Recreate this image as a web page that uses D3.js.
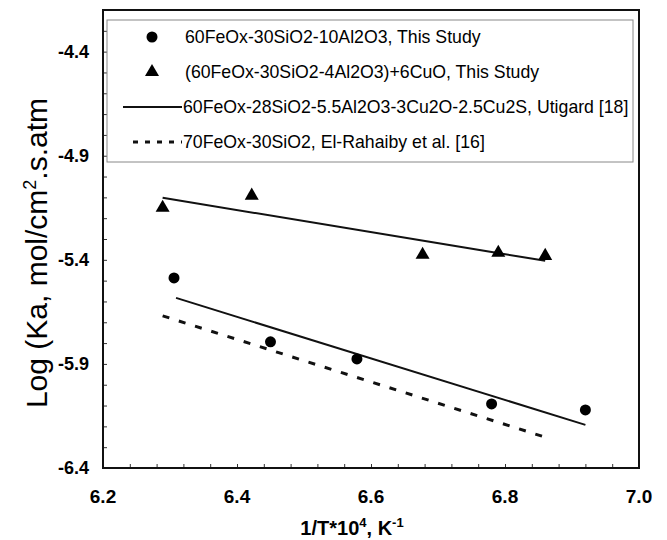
<!DOCTYPE html>
<html>
<head>
<meta charset="utf-8">
<script src="https://cdn.jsdelivr.net/npm/d3@7"></script>
<style>
  body { margin: 0; background: #fff; }
  svg { font-family: "Liberation Sans", Arial, sans-serif; }
</style>
</head>
<body>
<div id="chart"></div>
<script>
var circleX = [6.306, 6.450, 6.579, 6.780, 6.920];
var circleY = [-5.487, -5.794, -5.876, -6.092, -6.121];
var triX = [6.289, 6.422, 6.677, 6.790, 6.860];
var triY = [-5.150, -5.092, -5.376, -5.366, -5.381];

// fitted / literature lines (end points)
var triFitX = [6.289, 6.860];
var triFitY = [-5.102, -5.405];
var utigardX = [6.309, 6.920];
var utigardY = [-5.583, -6.193];
var rahaibyX = [6.289, 6.859];
var rahaibyY = [-5.669, -6.251];

var xTickLabels = [6.2, 6.4, 6.6, 6.8, 7.0];
var yTickLabels = [-6.4, -5.9, -5.4, -4.9, -4.4];

var legendLabels = [
  '60FeOx-30SiO2-10Al2O3, This Study',
  '(60FeOx-30SiO2-4Al2O3)+6CuO, This Study',
  '60FeOx-28SiO2-5.5Al2O3-3Cu2O-2.5Cu2S, Utigard [18]',
  '70FeOx-30SiO2, El-Rahaiby et al. [16]'
];

var W = 667, H = 540;
var margin = { top: 10, right: 28, bottom: 72, left: 103 };
var width = W - margin.left - margin.right,
    height = H - margin.top - margin.bottom;

var x = d3.scaleLinear().domain([6.2, 7.0]).range([0, width]);
var y = d3.scaleLinear().domain([-6.4, -4.2]).range([height, 0]);

var svg = d3.select('#chart').append('svg')
    .attr('width', W)
    .attr('height', H);

var g = svg.append('g')
    .attr('transform', 'translate(' + margin.left + ',' + margin.top + ')');

// minor ticks pointing inward
var xMinor = d3.range(0, 21).map(function(i) { return 6.2 + i * 0.04; });
var yMinor = d3.range(0, 23).map(function(i) { return -6.4 + i * 0.1; });

var xAxis = d3.axisTop(x).tickValues(xMinor).tickSize(4).tickFormat('');
var yAxis = d3.axisRight(y).tickValues(yMinor).tickSize(4).tickFormat('');

g.append('g')
    .attr('transform', 'translate(0,' + height + ')')
    .call(xAxis)
    .call(function(s) { s.select('.domain').remove(); })
    .selectAll('line').attr('stroke', '#333');

g.append('g')
    .call(yAxis)
    .call(function(s) { s.select('.domain').remove(); })
    .selectAll('line').attr('stroke', '#333');

// frame
g.append('rect')
    .attr('x', 0).attr('y', 0)
    .attr('width', width).attr('height', height)
    .attr('fill', 'none')
    .attr('stroke', '#111')
    .attr('stroke-width', 2);

// tick labels
g.selectAll('text.xlab')
    .data(xTickLabels)
    .enter().append('text')
    .attr('class', 'xlab')
    .attr('x', function(d) { return x(d); })
    .attr('y', height + 35)
    .attr('text-anchor', 'middle')
    .attr('font-size', 19)
    .attr('font-weight', 'bold')
    .text(function(d) { return d.toFixed(1); });

g.selectAll('text.ylab')
    .data(yTickLabels)
    .enter().append('text')
    .attr('class', 'ylab')
    .attr('x', -14)
    .attr('y', function(d) { return y(d) + 6; })
    .attr('text-anchor', 'end')
    .attr('font-size', 18)
    .attr('font-weight', 'bold')
    .text(function(d) { return d.toFixed(1); });

// axis titles
var xt = svg.append('text')
    .attr('x', 352)
    .attr('y', 535)
    .attr('text-anchor', 'middle')
    .attr('font-size', 20)
    .attr('font-weight', 'bold');
xt.append('tspan').text('1/T*10');
xt.append('tspan').attr('dy', -8).attr('font-size', 13).text('4');
xt.append('tspan').attr('dy', 8).text(', K');
xt.append('tspan').attr('dy', -8).attr('font-size', 13).text('-1');

var yt = svg.append('text')
    .attr('transform', 'translate(47,253) rotate(-90)')
    .attr('text-anchor', 'middle')
    .attr('font-size', 30);
yt.append('tspan').text('Log (Ka, mol/cm');
yt.append('tspan').attr('dy', -11).attr('font-size', 18).text('2');
yt.append('tspan').attr('dy', 11).text('.s.atm');

// lines
var line = d3.line()
    .x(function(d) { return x(d[0]); })
    .y(function(d) { return y(d[1]); });

function pairs(xs, ys) { return xs.map(function(v, i) { return [v, ys[i]]; }); }

g.append('path')
    .attr('d', line(pairs(triFitX, triFitY)))
    .attr('fill', 'none').attr('stroke', '#111').attr('stroke-width', 2);

g.append('path')
    .attr('d', line(pairs(utigardX, utigardY)))
    .attr('fill', 'none').attr('stroke', '#111').attr('stroke-width', 2);

g.append('path')
    .attr('d', line(pairs(rahaibyX, rahaibyY)))
    .attr('fill', 'none').attr('stroke', '#111').attr('stroke-width', 3)
    .attr('stroke-dasharray', '7,10');

// markers
g.selectAll('circle.pt')
    .data(pairs(circleX, circleY))
    .enter().append('circle')
    .attr('class', 'pt')
    .attr('cx', function(d) { return x(d[0]); })
    .attr('cy', function(d) { return y(d[1]); })
    .attr('r', 5.5)
    .attr('fill', '#000');

var tri = d3.symbol().type(d3.symbolTriangle).size(85);
g.selectAll('path.tri')
    .data(pairs(triX, triY))
    .enter().append('path')
    .attr('class', 'tri')
    .attr('d', tri)
    .attr('transform', function(d) { return 'translate(' + x(d[0]) + ',' + y(d[1]) + ')'; })
    .attr('fill', '#000');

// legend
var leg = svg.append('g');
leg.append('rect')
    .attr('x', 107).attr('y', 20)
    .attr('width', 526).attr('height', 142)
    .attr('fill', '#fff')
    .attr('stroke', '#888')
    .attr('stroke-width', 1);

var rowY = [37, 72, 107, 142];

leg.append('circle')
    .attr('cx', 152).attr('cy', rowY[0]).attr('r', 5.5).attr('fill', '#000');
leg.append('path')
    .attr('d', tri)
    .attr('transform', 'translate(152,' + rowY[1] + ')')
    .attr('fill', '#000');
leg.append('line')
    .attr('x1', 123).attr('x2', 182)
    .attr('y1', rowY[2]).attr('y2', rowY[2])
    .attr('stroke', '#111').attr('stroke-width', 2);
leg.append('line')
    .attr('x1', 133).attr('x2', 182)
    .attr('y1', rowY[3]).attr('y2', rowY[3])
    .attr('stroke', '#111').attr('stroke-width', 3)
    .attr('stroke-dasharray', '5,7');

leg.selectAll('text')
    .data(legendLabels)
    .enter().append('text')
    .attr('x', function(d, i) { return i < 2 ? 185 : 183; })
    .attr('y', function(d, i) { return rowY[i] + 6; })
    .attr('font-size', 17.7)
    .text(function(d) { return d; });
</script>
</body>
</html>
